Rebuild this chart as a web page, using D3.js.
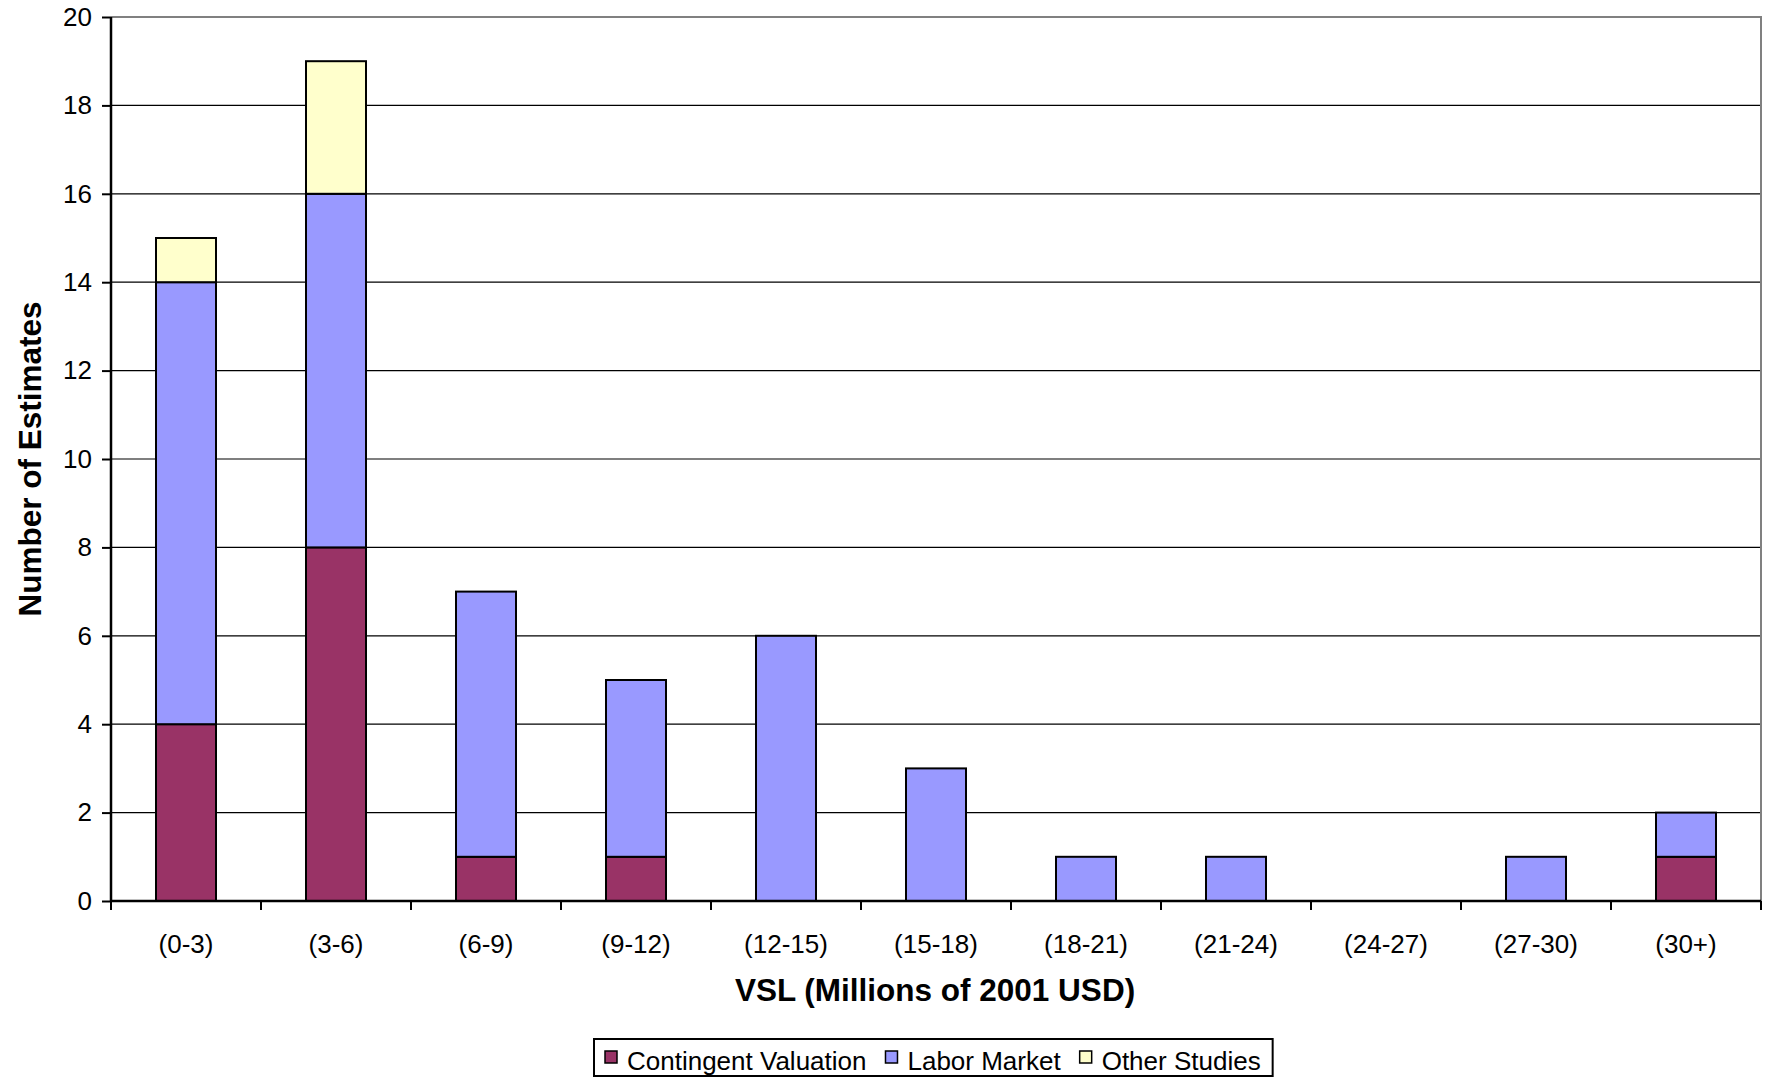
<!DOCTYPE html>
<html>
<head>
<meta charset="utf-8">
<script src="https://cdn.jsdelivr.net/npm/d3@7/dist/d3.min.js"></script>
<style>
  html, body { margin: 0; padding: 0; background: #fff; }
  svg { display: block; font-family: "Liberation Sans", Arial, sans-serif; }
</style>
</head>
<body>
<svg id="chart" width="1765" height="1078"></svg>
<script>
// VSL estimate counts by value range, split by study type
const categories = ["(0-3)", "(3-6)", "(6-9)", "(9-12)", "(12-15)", "(15-18)", "(18-21)", "(21-24)", "(24-27)", "(27-30)", "(30+)"];
const contingentValuation = [4, 8, 1, 1, 0, 0, 0, 0, 0, 0, 1];
const laborMarket = [10, 8, 6, 4, 6, 3, 1, 1, 0, 1, 1];
const otherStudies = [1, 3, 0, 0, 0, 0, 0, 0, 0, 0, 0];
const seriesNames = ["Contingent Valuation", "Labor Market", "Other Studies"];
const seriesColors = ["#993366", "#9999FF", "#FFFFCC"];
const yTicks = [0, 2, 4, 6, 8, 10, 12, 14, 16, 18, 20];

const svg = d3.select("#chart");
const plot = { left: 111, right: 1761, top: 17, bottom: 901 };

const rows = categories.map((c, i) => ({
  cat: c,
  "Contingent Valuation": contingentValuation[i],
  "Labor Market": laborMarket[i],
  "Other Studies": otherStudies[i]
}));

const x = d3.scaleBand()
  .domain(categories)
  .range([plot.left, plot.right])
  .paddingInner(0.6)
  .paddingOuter(0.3);

const y = d3.scaleLinear().domain([0, 20]).range([plot.bottom, plot.top]);

// horizontal gridlines
svg.append("g")
  .selectAll("line")
  .data(yTicks.filter(t => t > 0 && t < 20))
  .join("line")
  .attr("x1", plot.left).attr("x2", plot.right)
  .attr("y1", d => y(d)).attr("y2", d => y(d))
  .attr("stroke", "#000").attr("stroke-width", 1.2);

// gray frame on top and right
svg.append("path")
  .attr("d", `M${plot.left},${y(20)}H${plot.right}V${plot.bottom}`)
  .attr("fill", "none").attr("stroke", "#808080").attr("stroke-width", 2);

// stacked bars
const stack = d3.stack().keys(seriesNames);
const layers = stack(rows);
const color = d3.scaleOrdinal().domain(seriesNames).range(seriesColors);

svg.append("g")
  .selectAll("g")
  .data(layers)
  .join("g")
  .attr("fill", d => color(d.key))
  .selectAll("rect")
  .data(d => d.filter(s => s[1] - s[0] > 0))
  .join("rect")
  .attr("x", d => x(d.data.cat))
  .attr("width", x.bandwidth())
  .attr("y", d => y(d[1]))
  .attr("height", d => y(d[0]) - y(d[1]))
  .attr("stroke", "#000")
  .attr("stroke-width", 2);

// y axis
const yAxis = d3.axisLeft(y).tickValues(yTicks).tickSize(9).tickPadding(10);
const gy = svg.append("g")
  .attr("transform", `translate(${plot.left},0)`)
  .call(yAxis);
gy.select(".domain").attr("stroke", "#000").attr("stroke-width", 2.5)
  .attr("d", `M0,${y(20)}V${plot.bottom}`);
gy.selectAll(".tick line").attr("stroke", "#000").attr("stroke-width", 2);
gy.selectAll(".tick text")
  .attr("font-size", 26).attr("fill", "#000")
  .attr("font-family", "Liberation Sans, Arial, sans-serif");

// x axis: tick marks sit on the band boundaries
const half = (x.step() - x.bandwidth()) / 2;
const boundaries = categories.map(c => x(c) - half).concat([x(categories[categories.length - 1]) + x.bandwidth() + half]);
const gx = svg.append("g").attr("transform", `translate(0,${plot.bottom})`);
gx.append("line")
  .attr("x1", plot.left).attr("x2", plot.right)
  .attr("stroke", "#000").attr("stroke-width", 2.5);
gx.selectAll("line.tk")
  .data(boundaries)
  .join("line")
  .attr("class", "tk")
  .attr("x1", d => d).attr("x2", d => d)
  .attr("y1", 0).attr("y2", 9)
  .attr("stroke", "#000").attr("stroke-width", 2);
gx.selectAll("text")
  .data(categories)
  .join("text")
  .attr("x", d => x(d) + x.bandwidth() / 2)
  .attr("y", 52)
  .attr("text-anchor", "middle")
  .attr("font-size", 26)
  .attr("fill", "#000")
  .text(d => d);

// axis titles
svg.append("text")
  .attr("x", (plot.left + plot.right) / 2 - 1)
  .attr("y", 1001)
  .attr("text-anchor", "middle")
  .attr("font-size", 31.5).attr("font-weight", "bold")
  .text("VSL (Millions of 2001 USD)");

svg.append("text")
  .attr("transform", `translate(41,${(plot.top + plot.bottom) / 2}) rotate(-90)`)
  .attr("text-anchor", "middle")
  .attr("font-size", 31.5).attr("font-weight", "bold")
  .text("Number of Estimates");

// legend
const legend = svg.append("g");
const legendBox = legend.append("rect")
  .attr("fill", "#fff").attr("stroke", "#000").attr("stroke-width", 2);
let cx = 605;
const swatch = 12, textGap = 10, itemGap = 19, rowY = 1057;
seriesNames.forEach((name, i) => {
  legend.append("rect")
    .attr("x", cx).attr("y", rowY - swatch / 2)
    .attr("width", swatch).attr("height", swatch)
    .attr("fill", seriesColors[i]).attr("stroke", "#000").attr("stroke-width", 1.5);
  const t = legend.append("text")
    .attr("x", cx + swatch + textGap)
    .attr("y", 1070)
    .attr("font-size", 26)
    .text(name);
  cx += swatch + textGap + t.node().getComputedTextLength() + itemGap;
});
legendBox
  .attr("x", 594).attr("y", 1039)
  .attr("width", cx - itemGap + 12 - 594).attr("height", 37);
</script>
</body>
</html>
